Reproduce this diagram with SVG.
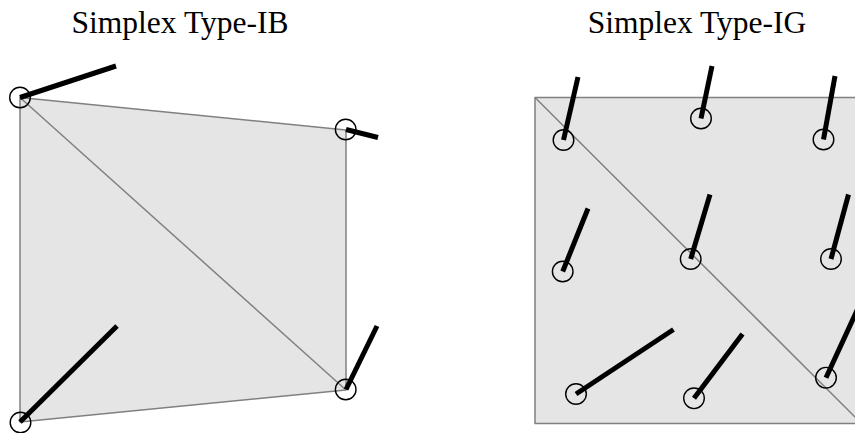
<svg xmlns="http://www.w3.org/2000/svg" width="855" height="433" viewBox="0 0 855 433">
<style>
.title{font-family:"Liberation Serif",serif;font-size:31.5px;fill:#000;text-anchor:middle}
.face{fill:#e5e5e5;stroke:#808080;stroke-width:1.5;stroke-linejoin:round}
.edge{fill:none;stroke:#808080;stroke-width:1.5}
.pt{fill:none;stroke:#000;stroke-width:1.4}
.vec{stroke:#000;stroke-width:5;stroke-linecap:butt}
</style>
<rect width="855" height="433" fill="#fff"/>
<text class="title" x="180" y="33">Simplex Type-IB</text>
<text class="title" x="697" y="33">Simplex Type-IG</text>
<g id="simplexIB">
<polygon class="face" points="20,97.5 346,130 346,390 20,422"/>
<line class="edge" x1="20" y1="97.5" x2="346" y2="390"/>
</g>
<g id="simplexIG">
<rect class="face" x="535" y="97.5" width="330" height="326"/>
<line class="edge" x1="535" y1="97.5" x2="865" y2="427"/>
</g>
<g id="connectors">
<line class="vec" x1="20" y1="97.5" x2="116" y2="66"/>
<line class="vec" x1="346" y1="129.5" x2="378" y2="137.5"/>
<line class="vec" x1="346" y1="389.5" x2="377" y2="326"/>
<line class="vec" x1="20" y1="422" x2="117" y2="326"/>
<line class="vec" x1="563.5" y1="140" x2="578" y2="77"/>
<line class="vec" x1="701" y1="118.5" x2="712" y2="66"/>
<line class="vec" x1="823.5" y1="139.5" x2="835" y2="76"/>
<line class="vec" x1="562.7" y1="271.5" x2="588" y2="208.5"/>
<line class="vec" x1="690.7" y1="259" x2="710" y2="194.5"/>
<line class="vec" x1="831" y1="259" x2="848.5" y2="194.5"/>
<line class="vec" x1="576" y1="394" x2="673.5" y2="329.5"/>
<line class="vec" x1="694" y1="398.3" x2="742.5" y2="334"/>
<line class="vec" x1="826" y1="377.7" x2="860" y2="304"/>
</g>
<g id="points">
<circle class="pt" cx="20" cy="97.5" r="10.3"/>
<circle class="pt" cx="345.7" cy="129.5" r="10.3"/>
<circle class="pt" cx="345.7" cy="389.5" r="10.3"/>
<circle class="pt" cx="20.5" cy="422.5" r="10.3"/>
<circle class="pt" cx="563.5" cy="140" r="10.3"/>
<circle class="pt" cx="701" cy="118.5" r="10.3"/>
<circle class="pt" cx="823.5" cy="139.5" r="10.3"/>
<circle class="pt" cx="562.7" cy="271.5" r="10.3"/>
<circle class="pt" cx="690.7" cy="259" r="10.3"/>
<circle class="pt" cx="831" cy="259" r="10.3"/>
<circle class="pt" cx="576" cy="394" r="10.3"/>
<circle class="pt" cx="694" cy="398.3" r="10.3"/>
<circle class="pt" cx="826" cy="377.7" r="10.3"/>
</g>
</svg>
